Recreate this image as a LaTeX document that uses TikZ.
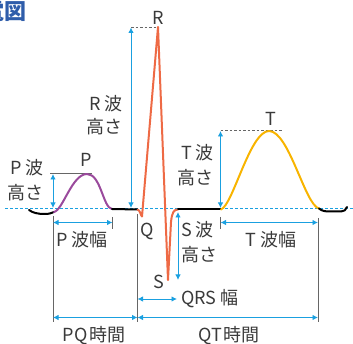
\documentclass[tikz,border=0pt]{standalone}
\usepackage{fontspec}
\setmainfont{Noto Sans CJK JP}
\usetikzlibrary{arrows.meta}
\definecolor{arr}{HTML}{1AA0E0}
\definecolor{ecgorange}{HTML}{EE6A45}
\definecolor{ecgpurple}{HTML}{9A4A9C}
\definecolor{ecgyellow}{HTML}{F8B400}
\definecolor{txt}{HTML}{3A3A3A}
\definecolor{head}{HTML}{2F5DAA}
\definecolor{guide}{HTML}{666666}
\begin{document}
\begin{tikzpicture}[x=1pt,y=-1pt,
  lbl/.style={text=txt,font=\fontsize{18}{25}\selectfont,inner sep=0pt},
  meas/.style={arr,line width=0.9pt,{Latex[length=5.5pt,width=5.5pt]}-{Latex[length=5.5pt,width=5.5pt]}},
  guideline/.style={guide,line width=0.8pt},
  dguide/.style={guide,line width=0.8pt,dash pattern=on 2.5pt off 2pt},
  wave/.style={line width=2pt,line cap=round,line join=round}]
\useasboundingbox (0,0) rectangle (353,344);

% heading fragment
\node[anchor=east,inner sep=0pt,text=head,font=\fontsize{22}{22}\selectfont\bfseries] (head) at (27,11) {心電図};

% baseline
\draw[arr,line width=0.9pt,dash pattern=on 3pt off 2pt] (5,208.5) -- (353,208.5);

% guide lines
\coordinate (pq0) at (53,216);
\coordinate (pq1) at (53,322);
\coordinate (q0) at (137.5,214);
\coordinate (q1) at (137.5,322);
\coordinate (t0) at (318,218);
\coordinate (t1) at (318,322);
\draw[guideline] (pq0) -- (pq1);
\draw[guideline] (q0) -- (q1);
\draw[guideline] (t0) -- (t1);
\draw[guideline] (112.5,217) -- (112.5,229);
\draw[guideline] (220.5,217) -- (220.5,229);
\draw[guideline] (50,173.5) -- (92,173.5);
\draw[dguide] (131,27) -- (158,27);
\draw[dguide] (220.5,130.5) -- (282,130.5);

% waveform
\draw[wave,black] (29,210) .. controls (33,213) and (38,214) .. (45,214) .. controls (49,214) and (52,213) .. (54,212);
\draw[wave,ecgpurple] (54,212) .. controls (63,210) and (72,174) .. (87,174) .. controls (101,174) and (103,208) .. (112,209);
\draw[wave,black] (112,209) -- (137.5,209.5);
\draw[wave,ecgorange] (137.5,209.5) .. controls (140,210) and (141,216) .. (142,216.5) -- (158,27) -- (168,280) -- (171,222) .. controls (172,212) and (174,209.5) .. (178,209.5);
\draw[wave,black] (178,209.5) -- (221,209.5);
\draw[wave,ecgyellow] (221,209.5) .. controls (233,205) and (250,131) .. (269,131) .. controls (289,131) and (305,205) .. (319,208.5);
\draw[wave,black] (319,208.5) .. controls (322,211) and (325,211.5) .. (330,211.5) -- (341,211.5) .. controls (344,211.5) and (346,210) .. (347,207);

% measurement arrows
\coordinate (rb) at (131,208);
\coordinate (rt) at (131,27.5);
\draw[meas] (rb) -- (rt);
\coordinate (pb) at (53,208);
\coordinate (pt) at (53,174);
\draw[meas] (pb) -- (pt);
\coordinate (tb) at (220.5,208);
\coordinate (tt) at (220.5,131);
\draw[meas] (tb) -- (tt);
\coordinate (sb) at (178,212);
\coordinate (st) at (178,280);
\draw[meas] (sb) -- (st);
\coordinate (pw0) at (53,222.5);
\coordinate (pw1) at (112.5,222.5);
\draw[meas] (pw0) -- (pw1);
\coordinate (tw0) at (220.5,222.5);
\coordinate (tw1) at (318,222.5);
\draw[meas] (tw0) -- (tw1);
\coordinate (qrs0) at (137.5,299);
\coordinate (qrs1) at (177,299);
\draw[meas] (qrs0) -- (qrs1);
\coordinate (pqa) at (53,317.5);
\coordinate (pqb) at (137.5,317.5);
\draw[meas] (pqa) -- (pqb);
\coordinate (qta) at (137.5,317.5);
\coordinate (qtb) at (318,317.5);
\draw[meas] (qta) -- (qtb);

% labels
\node[lbl] (lR) at (158,18) {R};
\node[lbl] (lP) at (86,160) {P};
\node[lbl] (lT) at (271,119) {T};
\node[lbl] (lQ) at (147,231) {Q};
\node[lbl] (lS) at (159,282) {S};
\node[lbl,align=right,anchor=north east,font=\fontsize{18}{23}\selectfont] (lRh) at (123,95) {R\hspace{0.2em}波\\高さ};
\node[lbl,align=right,anchor=north east] (lPh) at (44,159) {P\hspace{0.2em}波\\高さ};
\node[lbl,align=right,anchor=north east] (lTh) at (214,144) {T\hspace{0.2em}波\\高さ};
\node[lbl,align=left,anchor=north west] (lSh) at (181,221) {S\hspace{0.2em}波\\高さ};
\node[lbl] (lPw) at (82,240) {P\hspace{0.25em}波幅};
\node[lbl] (lTw) at (271,240) {T\hspace{0.25em}波幅};
\node[lbl,anchor=west] (lQRS) at (181,299) {QRS\hspace{0.2em}幅};
\node[lbl] (lPQ) at (94,336) {PQ\hspace{0.1em}時間};
\node[lbl] (lQT) at (229,336) {QT\hspace{0.1em}時間};
\end{tikzpicture}
\end{document}
